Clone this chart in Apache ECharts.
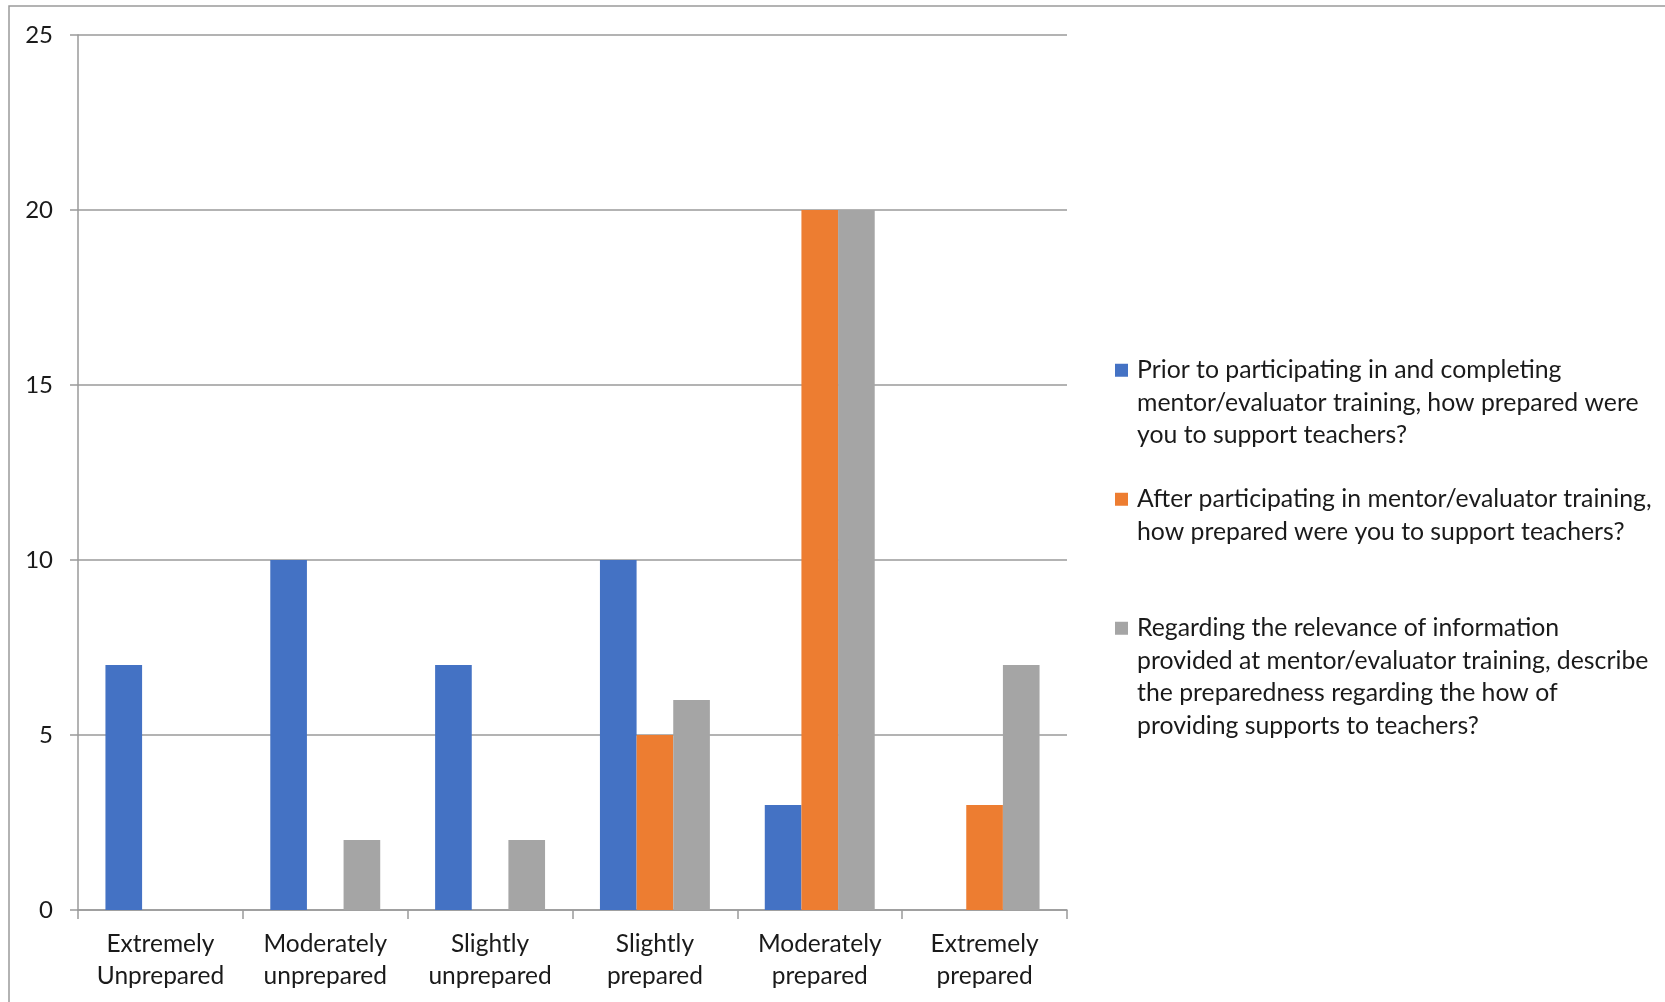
<!DOCTYPE html>
<html>
<head>
<meta charset="utf-8">
<script src="https://cdn.jsdelivr.net/npm/echarts@6/dist/echarts.min.js"></script>
<style>
html,body{margin:0;padding:0;background:#fff;}
#chart{width:1665px;height:1002px;}
</style>
</head>
<body>
<div id="chart"></div>
<script>
// ---- data ----
const categories = ['Extremely\nUnprepared','Moderately\nunprepared','Slightly\nunprepared','Slightly\nprepared','Moderately\nprepared','Extremely\nprepared'];
const priorValues = [7, 10, 7, 10, 3, 0];
const afterValues = [0, 0, 0, 5, 20, 3];
const relevanceValues = [0, 2, 2, 6, 20, 7];
const yTicks = [0, 5, 10, 15, 20, 25];
const priorLines = ['Prior to participating in and completing','mentor/evaluator training, how prepared were','you to support teachers?'];
const afterLines = ['After participating in mentor/evaluator training,','how prepared were you to support teachers?'];
const relevanceLines = ['Regarding the relevance of information','provided at mentor/evaluator training, describe','the preparedness regarding the how of','providing supports to teachers?'];
const seriesColors = ['#4472C4', '#ED7D31', '#A5A5A5'];

const names = [priorLines.join(' '), afterLines.join(' '), relevanceLines.join(' ')];
const linesByName = {};
linesByName[names[0]] = {lines: priorLines, key: 'm0'};
linesByName[names[1]] = {lines: afterLines.concat([' ']), key: 'm1'};
linesByName[names[2]] = {lines: relevanceLines, key: 'm2'};

const FONT = 'Lato';
const TEXT = '#1a1a1a';
const GRID = '#9a9a9a';
const LEG_FS = 24.8;
const LEG_LH = 32.5;

const chart = echarts.init(document.getElementById('chart'), null, {renderer: 'canvas'});

const rich = {
  t: {fontFamily: FONT, fontSize: LEG_FS, color: TEXT, lineHeight: LEG_LH},
  sp: {width: 9, lineHeight: LEG_LH},
  ind: {width: 22, lineHeight: LEG_LH}
};
seriesColors.forEach(function (c, i) {
  rich['m' + i] = {width: 13, height: 13, backgroundColor: c, lineHeight: LEG_LH};
});

function makeBar(name, values, color) {
  return {
    name: name,
    type: 'bar',
    data: values,
    barGap: '0%',
    barCategoryGap: '33.3%',
    itemStyle: {color: color},
    emphasis: {disabled: true}
  };
}

chart.setOption({
  animation: false,
  backgroundColor: '#ffffff',
  textStyle: {fontFamily: FONT},
  graphic: [{
    type: 'rect',
    shape: {x: 9, y: 6, width: 2000, height: 2000},
    style: {fill: 'none', stroke: '#9a9a9a', lineWidth: 1.5},
    silent: true,
    z: -10
  }],
  grid: {left: 78, right: 598, top: 35, bottom: 92},
  legend: {
    orient: 'vertical',
    left: 1105,
    top: 349,
    itemGap: 31.5,
    itemWidth: 0,
    itemHeight: 0,
    icon: 'rect',
    selectedMode: false,
    data: names,
    formatter: function (name) {
      const info = linesByName[name];
      return info.lines.map(function (ln, i) {
        if (i === 0) return '{' + info.key + '| }{sp| }{t|' + ln + '}';
        return '{ind| }{t|' + ln + '}';
      }).join('\n');
    },
    textStyle: {fontFamily: FONT, fontSize: LEG_FS, color: TEXT, lineHeight: LEG_LH, rich: rich}
  },
  xAxis: {
    type: 'category',
    data: categories,
    axisLine: {show: true, lineStyle: {color: GRID, width: 1.5}},
    axisTick: {show: true, length: 9, lineStyle: {color: GRID, width: 1.5}},
    axisLabel: {fontFamily: FONT, fontSize: 24.5, color: TEXT, lineHeight: 32, margin: 18, interval: 0}
  },
  yAxis: {
    type: 'value',
    min: yTicks[0],
    max: yTicks[yTicks.length - 1],
    interval: yTicks[1] - yTicks[0],
    axisLine: {show: true, lineStyle: {color: GRID, width: 1.5}},
    axisTick: {show: true, length: 8, lineStyle: {color: GRID, width: 1.5}},
    splitLine: {show: true, lineStyle: {color: GRID, width: 1.5}},
    axisLabel: {fontFamily: FONT, fontSize: 24, color: TEXT, margin: 25}
  },
  series: [
    makeBar(names[0], priorValues, seriesColors[0]),
    makeBar(names[1], afterValues, seriesColors[1]),
    makeBar(names[2], relevanceValues, seriesColors[2])
  ]
});
</script>
</body>
</html>
